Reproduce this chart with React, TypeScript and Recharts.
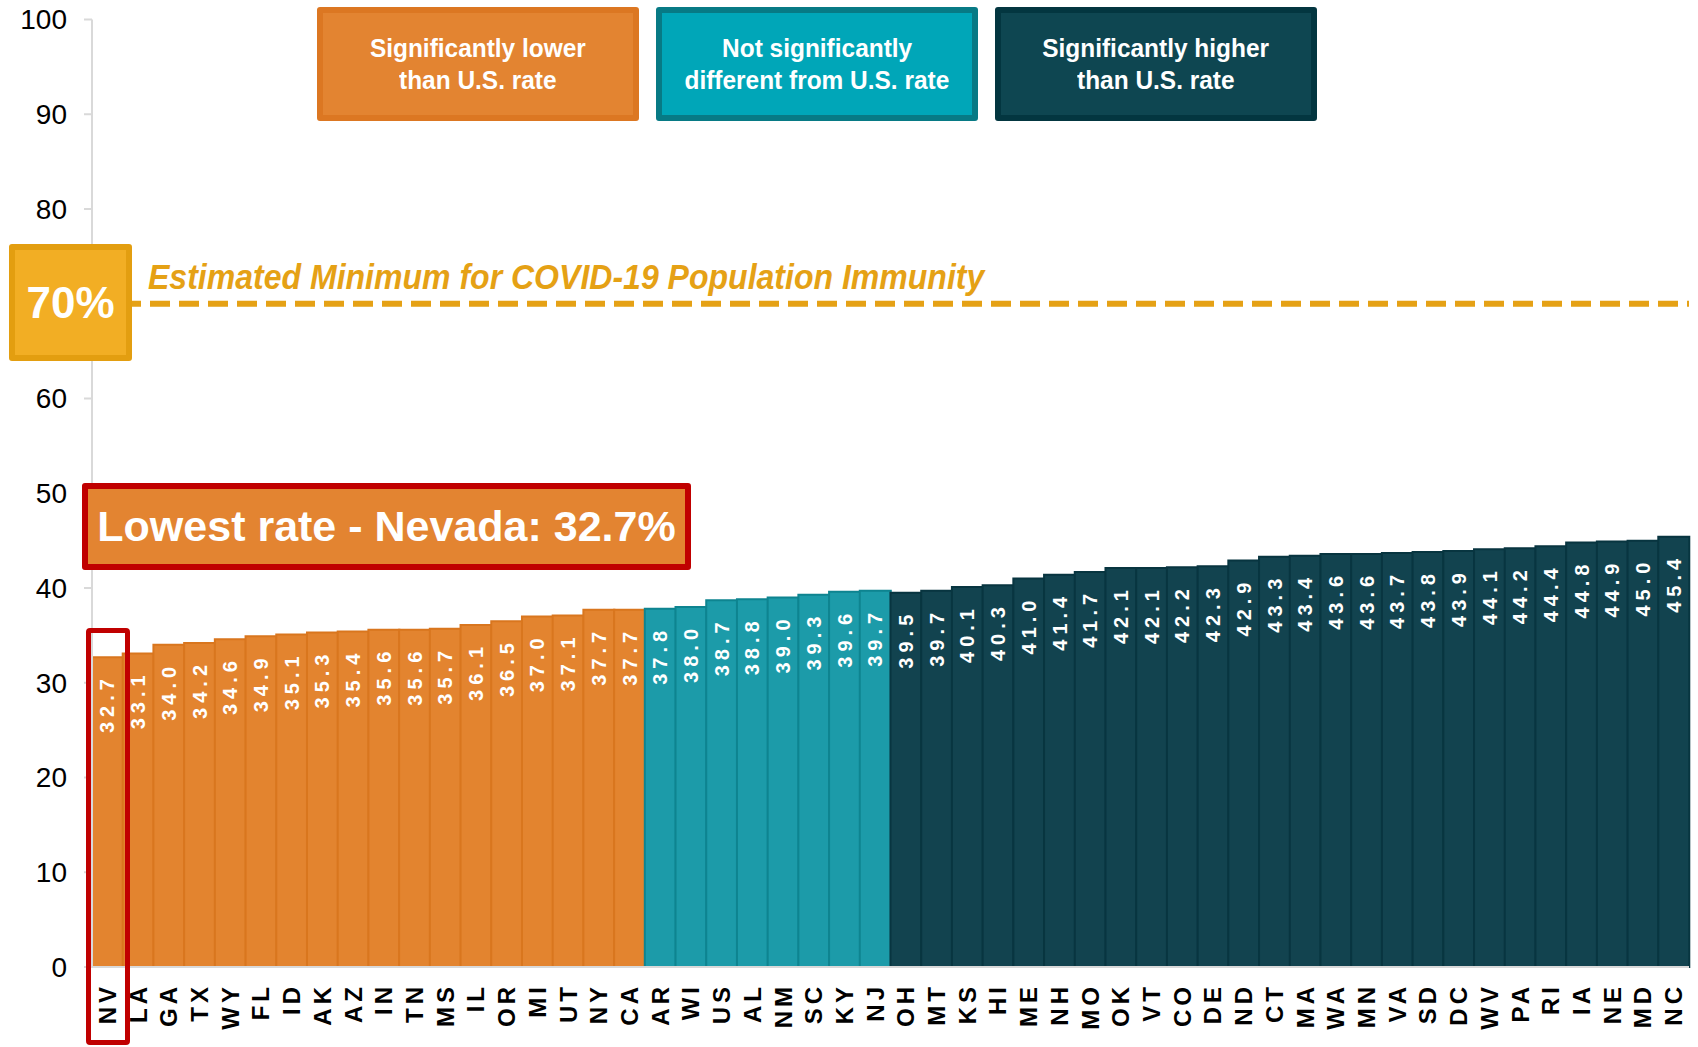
import { BarChart, Bar, XAxis, YAxis, Cell, LabelList, ReferenceLine } from 'recharts';

// states grouped by comparison with the U.S. rate, sorted low to high
const lowerStates = ['NV', 'LA', 'GA', 'TX', 'WY', 'FL', 'ID', 'AK', 'AZ', 'IN', 'TN', 'MS', 'IL', 'OR', 'MI', 'UT', 'NY', 'CA'];
const lowerRates = [32.7, 33.1, 34.0, 34.2, 34.6, 34.9, 35.1, 35.3, 35.4, 35.6, 35.6, 35.7, 36.1, 36.5, 37.0, 37.1, 37.7, 37.7];

const similarStates = ['AR', 'WI', 'US', 'AL', 'NM', 'SC', 'KY', 'NJ'];
const similarRates = [37.8, 38.0, 38.7, 38.8, 39.0, 39.3, 39.6, 39.7];

const higherStates = ['OH', 'MT', 'KS', 'HI', 'ME', 'NH', 'MO', 'OK', 'VT', 'CO', 'DE', 'ND', 'CT', 'MA', 'WA', 'MN', 'VA', 'SD', 'DC', 'WV', 'PA', 'RI', 'IA', 'NE', 'MD', 'NC'];
const higherRates = [39.5, 39.7, 40.1, 40.3, 41.0, 41.4, 41.7, 42.1, 42.1, 42.2, 42.3, 42.9, 43.3, 43.4, 43.6, 43.6, 43.7, 43.8, 43.9, 44.1, 44.2, 44.4, 44.8, 44.9, 45.0, 45.4];

const yTicks = [0, 10, 20, 30, 40, 50, 60, 70, 80, 90, 100];
const immunityThreshold = 70;

const COLORS = {
  lower: { fill: '#E3842F', stroke: '#D9761E' },
  similar: { fill: '#1C9BA9', stroke: '#0E8490' },
  higher: { fill: '#12434F', stroke: '#083540' },
};

type Group = keyof typeof COLORS;

const data = [
  ...lowerStates.map((s, i) => ({ state: s, rate: lowerRates[i], group: 'lower' as Group })),
  ...similarStates.map((s, i) => ({ state: s, rate: similarRates[i], group: 'similar' as Group })),
  ...higherStates.map((s, i) => ({ state: s, rate: higherRates[i], group: 'higher' as Group })),
];

const ARIAL = '"Liberation Sans", Arial, sans-serif';

function StateTick(props: any) {
  const { x, y, payload } = props;
  return (
    <text
      x={x}
      y={y}
      transform={`rotate(-90, ${x}, ${y})`}
      textAnchor="end"
      dominantBaseline="central"
      fill="#000"
      fontFamily={ARIAL}
      fontWeight="bold"
      fontSize={24}
      letterSpacing={4}
    >
      {payload.value}
    </text>
  );
}

function RateLabel(props: any) {
  const { x, y, width, value } = props;
  const cx = x + width / 2;
  const ty = y + 17;
  return (
    <text
      x={cx}
      y={ty}
      transform={`rotate(-90, ${cx}, ${ty})`}
      textAnchor="end"
      dominantBaseline="central"
      fill="#fff"
      fontFamily={ARIAL}
      fontWeight="bold"
      fontSize={20}
      letterSpacing={5}
    >
      {Number(value).toFixed(1)}
    </text>
  );
}

const legendBox = (left: number, bg: string, border: string, lines: string[]) => (
  <div
    style={{
      position: 'absolute', left, top: 7, width: 322, height: 114, boxSizing: 'border-box',
      background: bg, border: `6px solid ${border}`, borderRadius: 3,
      display: 'flex', flexDirection: 'column', alignItems: 'center', justifyContent: 'center',
      color: '#fff', fontFamily: ARIAL, fontWeight: 'bold', fontSize: 26, lineHeight: '32px',
    }}
  >
    {lines.map((l) => <div key={l} style={{ transform: 'scaleX(0.94)', whiteSpace: 'nowrap' }}>{l}</div>)}
  </div>
);

export default function App() {
  return (
    <div style={{ position: 'relative', width: 1698, height: 1047, background: '#fff' }}>
      <style>{`body{margin:0}`}</style>
      <BarChart
        width={1698}
        height={1047}
        data={data}
        margin={{ top: 19.5, right: 9, left: 0, bottom: 0 }}
        barCategoryGap={0}
      >
        <YAxis
          domain={[0, 100]}
          ticks={yTicks}
          width={92}
          tickSize={8}
          tickMargin={17}
          axisLine={{ stroke: '#D9D9D9', strokeWidth: 2 }}
          tickLine={{ stroke: '#D9D9D9', strokeWidth: 2 }}
          tick={{ fill: '#000', fontFamily: ARIAL, fontSize: 28 }}
          tickFormatter={(v) => (v === immunityThreshold ? '' : String(v))}
        />
        <XAxis
          dataKey="state"
          interval={0}
          height={80}
          tickSize={0}
          tickMargin={16}
          axisLine={{ stroke: '#D9D9D9', strokeWidth: 2 }}
          tickLine={false}
          tick={<StateTick />}
        />
        <Bar dataKey="rate" isAnimationActive={false} strokeWidth={2}>
          {data.map((d) => (
            <Cell key={d.state} fill={COLORS[d.group].fill} stroke={COLORS[d.group].stroke} />
          ))}
          <LabelList dataKey="rate" content={<RateLabel />} />
        </Bar>
        <ReferenceLine
          y={immunityThreshold}
          stroke="#E5A115"
          strokeWidth={6}
          strokeDasharray="20 9"
        />
      </BarChart>

      {legendBox(317, '#E38431', '#DC7722', ['Significantly lower', 'than U.S. rate'])}
      {legendBox(656, '#00A6B8', '#077A85', ['Not significantly', 'different from U.S. rate'])}
      {legendBox(995, '#0E4651', '#033640', ['Significantly higher', 'than U.S. rate'])}

      <div
        style={{
          position: 'absolute', left: 148, top: 257, color: '#E5A115', fontFamily: ARIAL,
          fontWeight: 'bold', fontStyle: 'italic', fontSize: 35, lineHeight: '40px', whiteSpace: 'nowrap',
          transform: 'scaleX(0.915)', transformOrigin: 'left center',
        }}
      >
        Estimated Minimum for COVID-19 Population Immunity
      </div>

      <div
        style={{
          position: 'absolute', left: 9, top: 244, width: 123, height: 117, boxSizing: 'border-box',
          background: '#F2AE24', border: '6px solid #E39E10', borderRadius: 3,
          display: 'flex', alignItems: 'center', justifyContent: 'center',
          color: '#fff', fontFamily: ARIAL, fontWeight: 'bold', fontSize: 44,
        }}
      >
        70%
      </div>

      <div
        style={{
          position: 'absolute', left: 82, top: 483, width: 609, height: 87, boxSizing: 'border-box',
          background: '#E38431', border: '6px solid #C00000', borderRadius: 3,
          display: 'flex', alignItems: 'center', justifyContent: 'center',
          color: '#fff', fontFamily: ARIAL, fontWeight: 'bold', fontSize: 43, whiteSpace: 'nowrap',
        }}
      >
        Lowest rate - Nevada: 32.7%
      </div>

      <div
        style={{
          position: 'absolute', left: 86, top: 628, width: 44, height: 417, boxSizing: 'border-box',
          border: '5px solid #C00000', borderRadius: 4,
        }}
      />
    </div>
  );
}
